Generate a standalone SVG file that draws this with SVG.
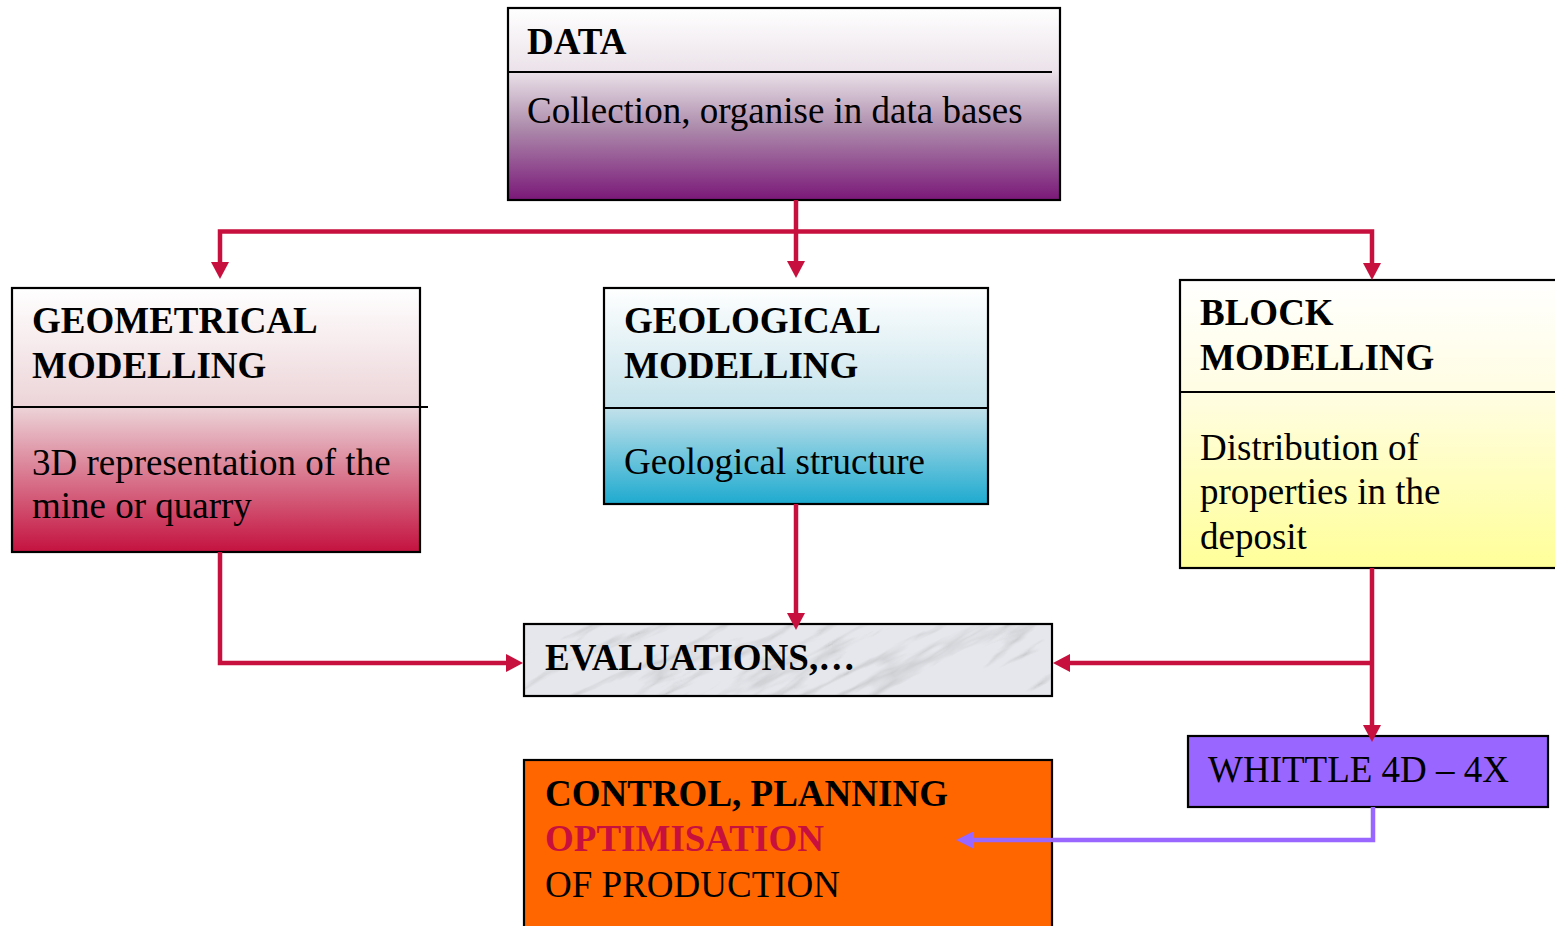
<svg xmlns="http://www.w3.org/2000/svg" width="1555" height="926" viewBox="0 0 1555 926">
<style>
text{font-family:"Liberation Serif","Times New Roman",serif;font-size:37px;fill:#000}
.b{font-weight:bold}
.box{stroke:#000;stroke-width:2.2}
.div{stroke:#000;stroke-width:2.2;fill:none}
.con{fill:none;stroke:#c8103e;stroke-width:4.5;stroke-linejoin:miter}
.pcon{fill:none;stroke:#9966ff;stroke-width:4.5;stroke-linejoin:miter}
</style>
<defs>
<linearGradient id="gData" x1="0" y1="0" x2="0" y2="1">
<stop offset="0" stop-color="#ffffff"/><stop offset="0.33" stop-color="#ebe2e9"/><stop offset="0.62" stop-color="#ad8cac"/><stop offset="1" stop-color="#7a1878"/>
</linearGradient>
<linearGradient id="gGeom" x1="0" y1="0" x2="0" y2="1">
<stop offset="0" stop-color="#ffffff"/><stop offset="0.45" stop-color="#ecd4d8"/><stop offset="1" stop-color="#c4123f"/>
</linearGradient>
<linearGradient id="gGeol" x1="0" y1="0" x2="0" y2="1">
<stop offset="0" stop-color="#ffffff"/><stop offset="0.55" stop-color="#c4e2eb"/><stop offset="1" stop-color="#1eaacf"/>
</linearGradient>
<linearGradient id="gBlock" x1="0" y1="0" x2="0" y2="1">
<stop offset="0" stop-color="#ffffff"/><stop offset="0.39" stop-color="#fffde2"/><stop offset="1" stop-color="#ffff99"/>
</linearGradient>
<filter id="marble" x="0" y="0" width="1" height="1">
<feFlood flood-color="#e6e7ec" result="bg"/>
<feTurbulence type="turbulence" baseFrequency="0.006 0.03" numOctaves="4" seed="5" result="n"/>
<feColorMatrix in="n" type="matrix" values="0 0 0 0 0.55  0 0 0 0 0.56  0 0 0 0 0.58  -3.5 0 0 0 0.85" result="veins"/>
<feComposite in="veins" in2="bg" operator="over" result="m"/>
<feComposite in="m" in2="SourceGraphic" operator="in"/>
</filter>
<clipPath id="evalClip"><rect x="524" y="624" width="528" height="72"/></clipPath>
<marker id="ar" markerUnits="userSpaceOnUse" markerWidth="17" markerHeight="18" refX="0" refY="9" orient="auto">
<path d="M0,0 L17,9 L0,18 z" fill="#c8103e"/>
</marker>
<marker id="ap" markerUnits="userSpaceOnUse" markerWidth="17" markerHeight="17" refX="0" refY="8.5" orient="auto">
<path d="M0,0 L17,8.5 L0,17 z" fill="#9966ff"/>
</marker>
</defs>

<g id="data">
<rect class="box" x="508" y="8" width="552" height="192" fill="url(#gData)"/>
<line class="div" x1="508" y1="72" x2="1052" y2="72"/>
<text class="b" x="527" y="54">DATA</text>
<text x="527" y="123">Collection, organise in data bases</text>
</g>

<g id="geometrical">
<rect class="box" x="12" y="288" width="408" height="264" fill="url(#gGeom)"/>
<line class="div" x1="12" y1="407" x2="428" y2="407"/>
<text class="b" x="32" y="333">GEOMETRICAL</text>
<text class="b" x="32" y="378">MODELLING</text>
<text x="32" y="475">3D representation of the</text>
<text x="32" y="518">mine or quarry</text>
</g>

<g id="geological">
<rect class="box" x="604" y="288" width="384" height="216" fill="url(#gGeol)"/>
<line class="div" x1="604" y1="408" x2="988" y2="408"/>
<text class="b" x="624" y="333">GEOLOGICAL</text>
<text class="b" x="624" y="378">MODELLING</text>
<text x="624" y="474">Geological structure</text>
</g>

<g id="block">
<rect class="box" x="1180" y="280" width="390" height="288" fill="url(#gBlock)"/>
<line class="div" x1="1180" y1="392" x2="1560" y2="392"/>
<text class="b" x="1200" y="325">BLOCK</text>
<text class="b" x="1200" y="370">MODELLING</text>
<text x="1200" y="460">Distribution of</text>
<text x="1200" y="504">properties in the</text>
<text x="1200" y="549">deposit</text>
</g>

<g id="evaluations">
<g clip-path="url(#evalClip)">
<rect x="524" y="624" width="528" height="72" fill="#e6e7ec"/>
<rect x="438" y="360" width="700" height="600" fill="#e6e7ec" filter="url(#marble)" transform="rotate(-28 788 660)"/>
</g>
<rect class="box" x="524" y="624" width="528" height="72" fill="none"/>
<text class="b" x="545" y="670">EVALUATIONS,…</text>
</g>

<g id="whittle">
<rect class="box" x="1188" y="736" width="360" height="71" fill="#9966ff"/>
<text x="1208" y="782">WHITTLE 4D – 4X</text>
</g>

<g id="control">
<rect class="box" x="524" y="760" width="528" height="180" fill="#ff6600"/>
<text class="b" x="545" y="806">CONTROL, PLANNING</text>
<text class="b" x="545" y="851" style="fill:#c8103e">OPTIMISATION</text>
<text x="545" y="897">OF PRODUCTION</text>
</g>

<g id="connectors">
<path class="con" d="M796,200 V261" marker-end="url(#ar)"/>
<path class="con" d="M798,231.5 H220 V262" marker-end="url(#ar)"/>
<path class="con" d="M794,231.5 H1372 V263" marker-end="url(#ar)"/>
<path class="con" d="M220,552 V663 H506" marker-end="url(#ar)"/>
<path class="con" d="M796,504 V613" marker-end="url(#ar)"/>
<path class="con" d="M1372,568 V725" marker-end="url(#ar)"/>
<path class="con" d="M1372,663 H1070" marker-end="url(#ar)"/>
<path class="pcon" d="M1373,807 V840 H973" marker-end="url(#ap)"/>
</g>
</svg>
